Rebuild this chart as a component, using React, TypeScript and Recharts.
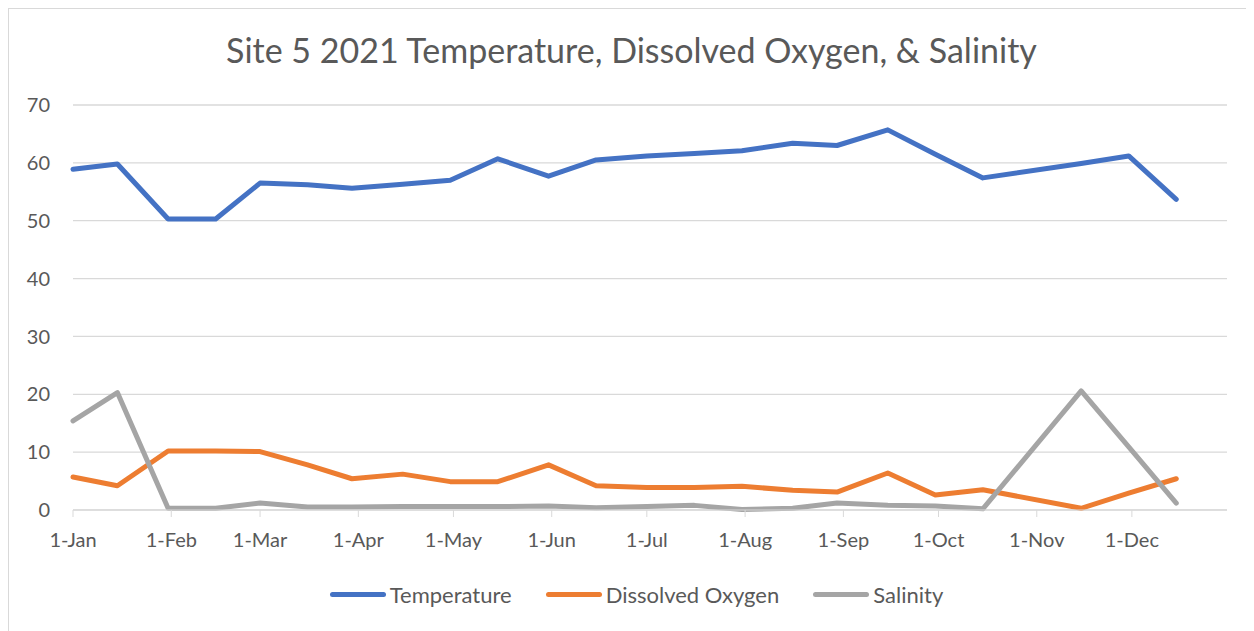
import { LineChart, Line, XAxis, YAxis, CartesianGrid, Legend } from "recharts";

// sampling dates (roughly every two weeks, no reading in early Nov)
const sampleDates = [
  "2021-01-01", "2021-01-15", "2021-01-31", "2021-02-15", "2021-03-01", "2021-03-16",
  "2021-03-30", "2021-04-15", "2021-04-30", "2021-05-15", "2021-05-31", "2021-06-15",
  "2021-07-01", "2021-07-16", "2021-07-31", "2021-08-16", "2021-08-30", "2021-09-15",
  "2021-09-30", "2021-10-15", "2021-11-15", "2021-11-30", "2021-12-15",
];
const temperature = [
  58.9, 59.8, 50.3, 50.3, 56.5, 56.2, 55.6, 56.3, 57.0, 60.7, 57.7, 60.5,
  61.2, 61.6, 62.1, 63.4, 63.0, 65.7, 61.5, 57.4, 59.9, 61.2, 53.7,
];
const dissolvedOxygen = [
  5.7, 4.2, 10.2, 10.2, 10.1, 7.8, 5.4, 6.2, 4.9, 4.9, 7.8, 4.2,
  3.9, 3.9, 4.1, 3.4, 3.1, 6.4, 2.6, 3.5, 0.3, 2.9, 5.4,
];
const salinity = [
  15.4, 20.3, 0.3, 0.3, 1.2, 0.5, 0.5, 0.6, 0.6, 0.6, 0.7, 0.4,
  0.6, 0.8, 0.1, 0.3, 1.2, 0.8, 0.7, 0.2, 20.6, 10.9, 1.2,
];

const monthStarts = [
  "2021-01-01", "2021-02-01", "2021-03-01", "2021-04-01", "2021-05-01", "2021-06-01",
  "2021-07-01", "2021-08-01", "2021-09-01", "2021-10-01", "2021-11-01", "2021-12-01",
];
const monthLabels = [
  "1-Jan", "1-Feb", "1-Mar", "1-Apr", "1-May", "1-Jun",
  "1-Jul", "1-Aug", "1-Sep", "1-Oct", "1-Nov", "1-Dec",
];
const yTicks = [0, 10, 20, 30, 40, 50, 60, 70];

const TITLE = "Site 5 2021 Temperature, Dissolved Oxygen, & Salinity";

const dayOfYear = (iso: string) =>
  Math.round((Date.parse(iso) - Date.parse("2021-01-01")) / 86400000);

const data = sampleDates.map((d, i) => ({
  day: dayOfYear(d),
  temperature: temperature[i],
  dissolvedOxygen: dissolvedOxygen[i],
  salinity: salinity[i],
}));

const xTicks = monthStarts.map(dayOfYear);
const labelFor = (day: number) => monthLabels[xTicks.indexOf(day)] ?? "";

const series = [
  { key: "temperature", name: "Temperature", color: "#4472C4" },
  { key: "dissolvedOxygen", name: "Dissolved Oxygen", color: "#ED7D31" },
  { key: "salinity", name: "Salinity", color: "#A5A5A5" },
];

const textColor = "#595959";
const gridColor = "#d9d9d9";

function ChartLegend() {
  return (
    <div
      style={{
        display: "flex",
        justifyContent: "center",
        alignItems: "center",
        height: 30,
        gap: 34,
      }}
    >
      {series.map((s) => (
        <div key={s.key} style={{ display: "flex", alignItems: "center", gap: 4 }}>
          <div style={{ width: 56, height: 5, borderRadius: 3, background: s.color }} />
          <span style={{ fontSize: 22, color: textColor }}>{s.name}</span>
        </div>
      ))}
    </div>
  );
}

export default function App() {
  return (
    <div
      style={{
        position: "relative",
        width: 1246,
        height: 623,
        boxSizing: "border-box",
        borderTop: `1px solid ${gridColor}`,
        borderLeft: `1px solid ${gridColor}`,
        fontFamily: "Lato, 'Open Sans', sans-serif",
        overflow: "hidden",
        background: "#fff",
      }}
    >
      <div
        style={{
          position: "absolute",
          top: 24,
          left: 0,
          width: 1245,
          textAlign: "center",
          fontSize: 34,
          lineHeight: 1,
          color: textColor,
        }}
      >
        {TITLE}
      </div>
      <LineChart
        width={1245}
        height={622}
        data={data}
        margin={{ top: 96, right: 27, left: 0, bottom: 22 }}
      >
        <CartesianGrid horizontal vertical={false} stroke={gridColor} strokeWidth={1.3} />
        <XAxis
          dataKey="day"
          type="number"
          domain={[0, 364]}
          ticks={xTicks}
          tickFormatter={labelFor}
          interval={0}
          height={69}
          tickSize={7}
          tickMargin={16}
          stroke={gridColor}
          tick={{ fill: textColor, fontSize: 20 }}
        />
        <YAxis
          type="number"
          domain={[0, 70]}
          ticks={yTicks}
          width={64}
          axisLine={false}
          tickLine={false}
          tickSize={0}
          tickMargin={23}
          tick={{ fill: textColor, fontSize: 20 }}
        />
        <Legend
          verticalAlign="bottom"
          content={() => <ChartLegend />}
          wrapperStyle={{ left: 10, width: 1235, height: 30 }}
        />
        {series.map((s) => (
          <Line
            key={s.key}
            type="linear"
            dataKey={s.key}
            name={s.name}
            stroke={s.color}
            strokeWidth={5}
            strokeLinejoin="round"
            strokeLinecap="round"
            dot={false}
            activeDot={false}
            isAnimationActive={false}
          />
        ))}
      </LineChart>
    </div>
  );
}
